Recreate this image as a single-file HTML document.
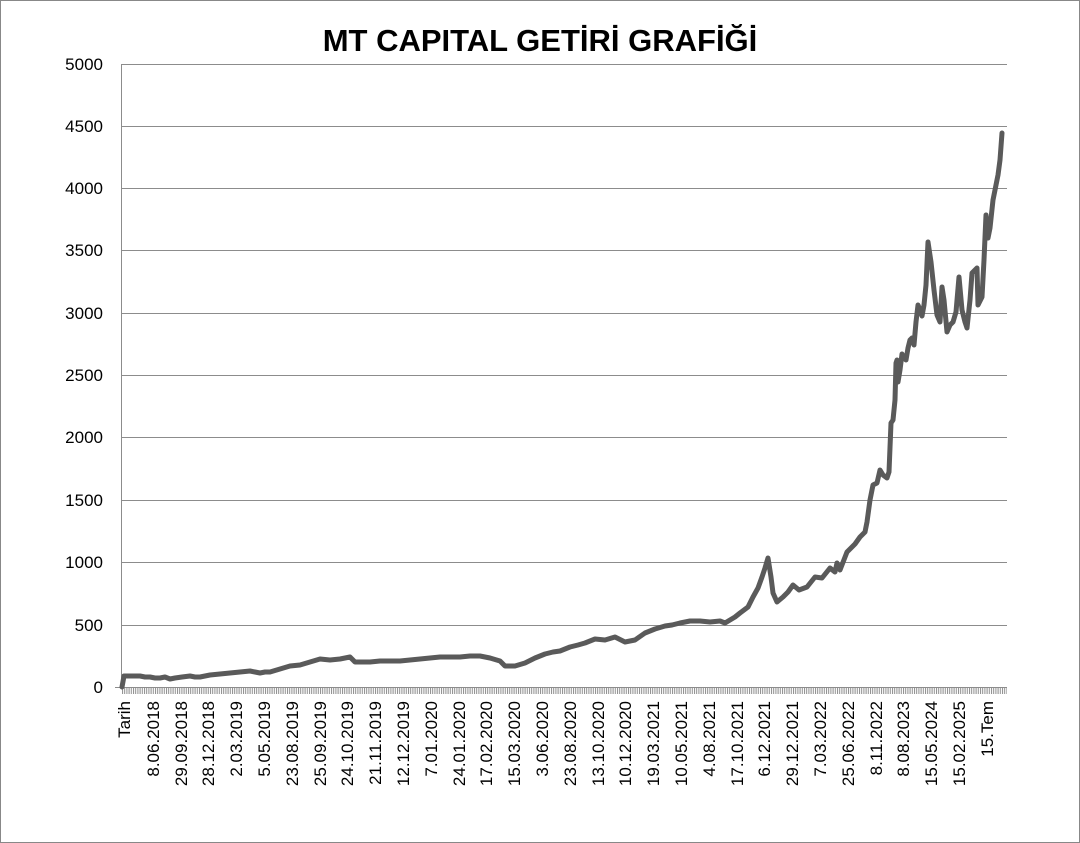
<!DOCTYPE html>
<html><head><meta charset="utf-8"><style>
html,body{margin:0;padding:0;background:#fff;}
svg{display:block;font-family:"Liberation Sans",sans-serif;}
</style></head><body>
<svg width="1080" height="843" viewBox="0 0 1080 843">
<defs><pattern id="tk" x="122" y="0" width="2.2" height="10" patternUnits="userSpaceOnUse"><rect x="0" y="0" width="1" height="10" fill="#8c8c8c"/></pattern></defs>
<rect x="0.5" y="0.5" width="1079" height="842" fill="#fff" stroke="#888"/>
<text x="540" y="51" text-anchor="middle" font-size="31" font-weight="bold" fill="#000">MT CAPITAL GETİRİ GRAFİĞİ</text>
<g stroke="#8c8c8c" stroke-width="1">
<line x1="122" y1="64.5" x2="1007" y2="64.5"/>
<line x1="122" y1="126.5" x2="1007" y2="126.5"/>
<line x1="122" y1="188.5" x2="1007" y2="188.5"/>
<line x1="122" y1="250.5" x2="1007" y2="250.5"/>
<line x1="122" y1="313.5" x2="1007" y2="313.5"/>
<line x1="122" y1="375.5" x2="1007" y2="375.5"/>
<line x1="122" y1="437.5" x2="1007" y2="437.5"/>
<line x1="122" y1="500.5" x2="1007" y2="500.5"/>
<line x1="122" y1="562.5" x2="1007" y2="562.5"/>
<line x1="122" y1="625.5" x2="1007" y2="625.5"/>
<line x1="115" y1="687.5" x2="1007" y2="687.5"/>
<line x1="121.5" y1="64" x2="121.5" y2="687"/>
</g>
<rect x="122" y="688" width="885" height="6" fill="url(#tk)"/>
<g font-size="17" fill="#000" text-anchor="end">
<text x="103" y="70">5000</text><text x="103" y="132">4500</text><text x="103" y="194">4000</text>
<text x="103" y="256">3500</text><text x="103" y="319">3000</text><text x="103" y="381">2500</text>
<text x="103" y="443">2000</text><text x="103" y="506">1500</text><text x="103" y="568">1000</text>
<text x="103" y="631">500</text><text x="103" y="693">0</text>
</g>
<g font-size="17" fill="#000" text-anchor="end">
<text transform="translate(130,701) rotate(-90)">Tarih</text>
<text transform="translate(159,701) rotate(-90)">8.06.2018</text>
<text transform="translate(187,701) rotate(-90)">29.09.2018</text>
<text transform="translate(214,701) rotate(-90)">28.12.2018</text>
<text transform="translate(242,701) rotate(-90)">2.03.2019</text>
<text transform="translate(270,701) rotate(-90)">5.05.2019</text>
<text transform="translate(298,701) rotate(-90)">23.08.2019</text>
<text transform="translate(326,701) rotate(-90)">25.09.2019</text>
<text transform="translate(353,701) rotate(-90)">24.10.2019</text>
<text transform="translate(381,701) rotate(-90)">21.11.2019</text>
<text transform="translate(409,701) rotate(-90)">12.12.2019</text>
<text transform="translate(437,701) rotate(-90)">7.01.2020</text>
<text transform="translate(465,701) rotate(-90)">24.01.2020</text>
<text transform="translate(492,701) rotate(-90)">17.02.2020</text>
<text transform="translate(520,701) rotate(-90)">15.03.2020</text>
<text transform="translate(548,701) rotate(-90)">3.06.2020</text>
<text transform="translate(576,701) rotate(-90)">23.08.2020</text>
<text transform="translate(604,701) rotate(-90)">13.10.2020</text>
<text transform="translate(631,701) rotate(-90)">10.12.2020</text>
<text transform="translate(659,701) rotate(-90)">19.03.2021</text>
<text transform="translate(687,701) rotate(-90)">10.05.2021</text>
<text transform="translate(715,701) rotate(-90)">4.08.2021</text>
<text transform="translate(743,701) rotate(-90)">17.10.2021</text>
<text transform="translate(770,701) rotate(-90)">6.12.2021</text>
<text transform="translate(798,701) rotate(-90)">29.12.2021</text>
<text transform="translate(826,701) rotate(-90)">7.03.2022</text>
<text transform="translate(854,701) rotate(-90)">25.06.2022</text>
<text transform="translate(882,701) rotate(-90)">8.11.2022</text>
<text transform="translate(909,701) rotate(-90)">8.08.2023</text>
<text transform="translate(937,701) rotate(-90)">15.05.2024</text>
<text transform="translate(965,701) rotate(-90)">15.02.2025</text>
<text transform="translate(993,701) rotate(-90)">15.Tem</text>
</g>
<polyline fill="none" stroke="#5a5a5a" stroke-width="5" stroke-linejoin="round" stroke-linecap="round" points="
122,687 124,676 140,676 145,677 150,677 155,678 160,678 165,677 170,679 175,678 182,677 190,676 195,677 200,677 205,676 210,675 220,674 230,673 240,672 250,671 255,672 260,673 265,672 270,672 280,669 290,666 300,665 310,662 320,659 330,660 340,659 345,658 350,657 355,662 370,662 380,661 390,661 400,661 410,660 420,659 430,658 440,657 450,657 460,657 470,656 480,656 490,658 500,661 505,666 515,666 525,663 535,658 545,654 553,652 560,651 570,647 578,645 585,643 595,639 605,640 615,637 625,642 630,641 635,640 645,633 655,629 665,626 672,625 680,623 690,621 700,621 710,622 720,621 725,623 735,617 740,613 748,607 753,597 758,588 762,577 765,568 768,558 771,577 773,593 777,602 783,597 788,592 793,585 799,590 807,587 815,577 822,578 830,568 835,572 837,563 840,570 847,552 855,544 860,537 865,532 867,522 870,500 873,485 877,483 880,470 883,475 887,478 889,472 891,423 893,420 895,400 896,363 897,360 898,382 900,370 902,354 904,358 906,360 908,348 910,340 912,338 914,345 916,322 918,305 920,310 922,316 924,305 926,285 928,242 931,262 934,290 937,315 940,322 942,287 944,300 947,332 950,325 953,322 956,312 959,277 962,310 965,322 967,328 970,300 972,273 975,270 977,268 978,305 982,297 984,260 986,215 988,238 990,228 993,200 996,185 998,175 1000,160 1002,133"/>
</svg>
</body></html>
